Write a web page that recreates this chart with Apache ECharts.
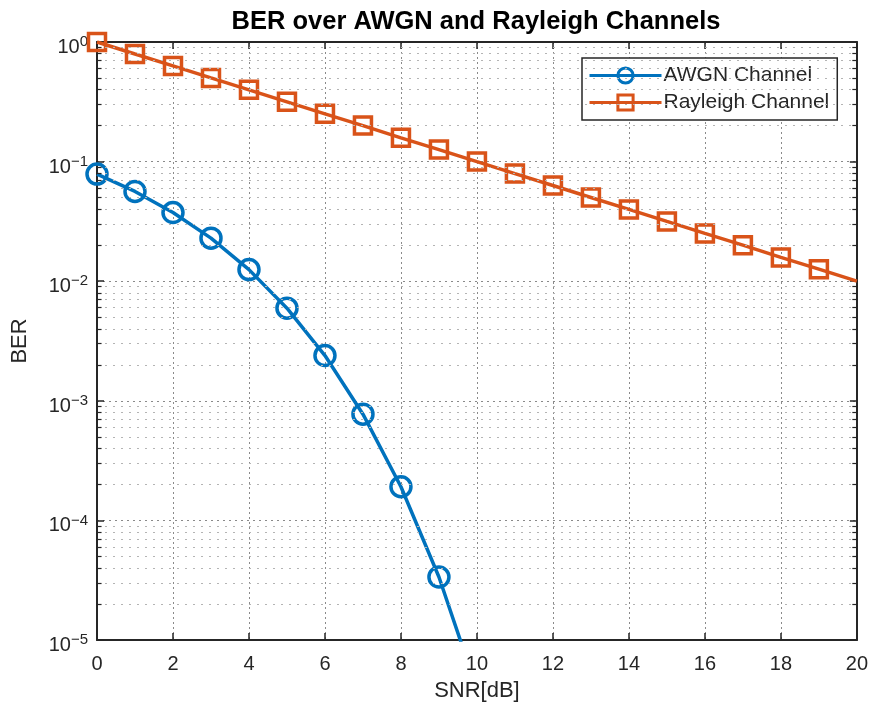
<!DOCTYPE html>
<html>
<head>
<meta charset="utf-8">
<script src="https://cdn.jsdelivr.net/npm/echarts@6/dist/echarts.min.js"></script>
<style>
  html, body { margin: 0; padding: 0; background: #fff; }
  #chart { width: 871px; height: 718px; }
</style>
</head>
<body>
<div id="chart"></div>
<script>
// SNR points (dB)
const snrAwgn = [0, 1, 2, 3, 4, 5, 6, 7, 8, 9, 10];
const snrRayleigh = [0, 1, 2, 3, 4, 5, 6, 7, 8, 9, 10, 11, 12, 13, 14, 15, 16, 17, 18, 19, 20];

// Bit error rates
const berAwgn = [0.0786, 0.0563, 0.0375, 0.0229, 0.0125, 0.00595, 0.00239, 0.000773, 0.000191, 0.0000336, 0.00000387];
const berRayleigh = [1.0, 0.794, 0.631, 0.501, 0.398, 0.316, 0.251, 0.2, 0.158, 0.126, 0.1, 0.0794, 0.0631, 0.0501, 0.0398, 0.0316, 0.0251, 0.02, 0.0158, 0.0126, 0.01];

// Axis ranges
const xTicks = [0, 2, 4, 6, 8, 10, 12, 14, 16, 18, 20];
const yDecades = [-5, -4, -3, -2, -1, 0];
const minorMantissas = [2, 3, 4, 5, 6, 7, 8, 9];

const FONT = '"Liberation Sans", Arial, Helvetica, sans-serif';
const AXIS_COLOR = '#262626';
const BLUE = '#0072BD';
const ORANGE = '#D95319';

const xMin = xTicks[0], xMax = xTicks[xTicks.length - 1];

// Minor log-grid lines and minor ticks on both vertical edges
const minorLines = [];
for (let d = yDecades[0]; d < yDecades[yDecades.length - 1]; d++) {
  minorMantissas.forEach(m => {
    const v = m * Math.pow(10, d);
    minorLines.push([{ coord: [xMin, v] }, { coord: [xMax, v],
      lineStyle: { color: '#b4b4b4', width: 1, type: [2, 6] } }]);
    minorLines.push([{ coord: [xMin, v] }, { coord: [xMin + 0.12, v],
      lineStyle: { color: AXIS_COLOR, width: 1.2, type: 'solid' } }]);
    minorLines.push([{ coord: [xMax - 0.12, v] }, { coord: [xMax, v],
      lineStyle: { color: AXIS_COLOR, width: 1.2, type: 'solid' } }]);
  });
}

function toPairs(xs, ys) {
  return xs.map((x, i) => ({ value: [x, ys[i]] }));
}

const awgnData = toPairs(snrAwgn, berAwgn);
// last point lies below the visible range; only its segment is seen
awgnData[awgnData.length - 1].symbol = 'none';
const rayData = toPairs(snrRayleigh, berRayleigh);
rayData[rayData.length - 1].symbol = 'none';

// 10^n tick labels with a typographic minus in the exponent
const yLabelFmt = v => {
  const e = Math.round(Math.log10(v));
  const exp = e < 0 ? '\u2212' + (-e) : String(e);
  return '{b|10}{e|' + exp + '}';
};

const chart = echarts.init(document.getElementById('chart'), null, { renderer: 'canvas' });
chart.setOption({
  animation: false,
  backgroundColor: '#fff',
  title: {
    text: 'BER over AWGN and Rayleigh Channels',
    left: 471, top: 4, textAlign: 'center',
    textStyle: { fontFamily: FONT, fontSize: 25.5, fontWeight: 'bold', color: '#000' }
  },
  grid: { left: 97, right: 14, top: 42, bottom: 78, containLabel: false },
  legend: {
    data: ['AWGN Channel', 'Rayleigh Channel'],
    orient: 'vertical',
    left: 582, top: 58,
    padding: [7, 8, 7, 6],
    itemWidth: 72, itemHeight: 19, itemGap: 6,
    backgroundColor: '#fff',
    borderColor: AXIS_COLOR, borderWidth: 1.5,
    lineStyle: { width: 3 },
    itemStyle: { borderWidth: 3 },
    textStyle: { fontFamily: FONT, fontSize: 21, color: AXIS_COLOR, padding: [0, 0, 0, -3] }
  },
  xAxis: [{
    type: 'value', min: xMin, max: xMax, interval: 2,
    name: 'SNR[dB]', nameLocation: 'middle', nameGap: 40,
    nameTextStyle: { fontFamily: FONT, fontSize: 22, color: AXIS_COLOR },
    axisLine: { show: true, onZero: false, lineStyle: { color: AXIS_COLOR, width: 2 } },
    axisTick: { show: true, inside: true, length: 7, lineStyle: { color: AXIS_COLOR, width: 1.5 } },
    axisLabel: { fontFamily: FONT, fontSize: 20, color: AXIS_COLOR, margin: 14 },
    splitLine: { show: true, lineStyle: { color: '#8a8a8a', width: 1, type: [2, 3] } }
  }, {
    type: 'value', min: xMin, max: xMax, interval: 2, position: 'top',
    axisLine: { show: true, onZero: false, lineStyle: { color: AXIS_COLOR, width: 2 } },
    axisTick: { show: true, inside: true, length: 7, lineStyle: { color: AXIS_COLOR, width: 1.5 } },
    axisLabel: { show: false }, splitLine: { show: false }
  }],
  yAxis: [{
    type: 'log', logBase: 10, min: 1e-5, max: 1,
    name: 'BER', nameLocation: 'middle', nameGap: 66, nameRotate: 90,
    nameTextStyle: { fontFamily: FONT, fontSize: 22, color: AXIS_COLOR },
    axisLine: { show: true, onZero: false, lineStyle: { color: AXIS_COLOR, width: 2 } },
    axisTick: { show: true, inside: true, length: 7, lineStyle: { color: AXIS_COLOR, width: 1.5 } },
    axisLabel: {
      formatter: yLabelFmt, margin: 9,
      rich: {
        b: { fontFamily: FONT, fontSize: 20, color: AXIS_COLOR, lineHeight: 20, verticalAlign: 'bottom' },
        e: { fontFamily: FONT, fontSize: 15, color: AXIS_COLOR, lineHeight: 31, verticalAlign: 'middle' }
      }
    },
    splitLine: { show: true, lineStyle: { color: '#8a8a8a', width: 1, type: [2, 4] } }
  }, {
    type: 'log', logBase: 10, min: 1e-5, max: 1, position: 'right',
    axisLine: { show: true, onZero: false, lineStyle: { color: AXIS_COLOR, width: 2 } },
    axisTick: { show: true, inside: true, length: 7, lineStyle: { color: AXIS_COLOR, width: 1.5 } },
    axisLabel: { show: false }, splitLine: { show: false }
  }],
  series: [{
    name: 'minor-grid',
    type: 'line', data: [], z: 1, silent: true,
    markLine: { silent: true, symbol: ['none', 'none'], label: { show: false },
      animation: false, data: minorLines }
  }, {
    name: 'AWGN Channel',
    type: 'line', data: awgnData, z: 3,
    symbol: 'circle', symbolSize: 20, showAllSymbol: true,
    lineStyle: { color: BLUE, width: 3.5 },
    itemStyle: { color: 'rgba(255,255,255,0)', borderColor: BLUE, borderWidth: 3.5 },
    color: BLUE
  }, {
    name: 'Rayleigh Channel',
    type: 'line', data: rayData, z: 3,
    symbol: 'rect', symbolSize: 17, showAllSymbol: true,
    lineStyle: { color: ORANGE, width: 3.5 },
    itemStyle: { color: 'rgba(255,255,255,0)', borderColor: ORANGE, borderWidth: 3.5 },
    color: ORANGE
  }]
});
</script>
</body>
</html>
